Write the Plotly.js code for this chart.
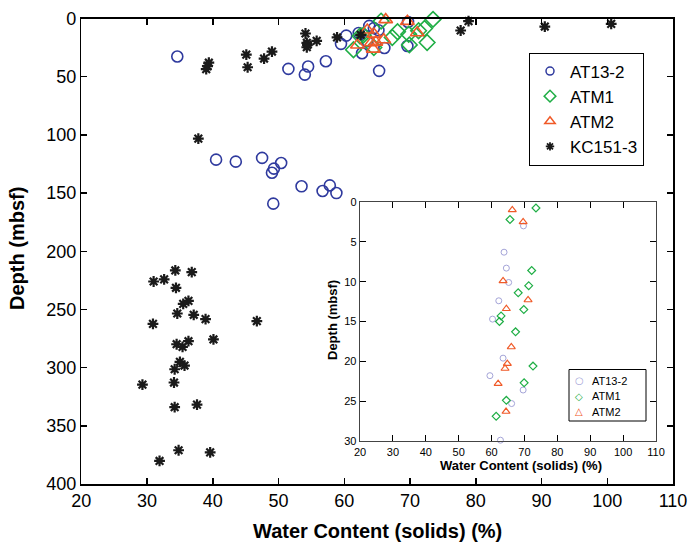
<!DOCTYPE html>
<html>
<head>
<meta charset="utf-8">
<script src="https://cdn.plot.ly/plotly-3.0.1.min.js"></script>
<style>html,body{margin:0;padding:0;background:#fff;}#chart{width:689px;height:545px;}</style>
</head>
<body>
<div id="chart"></div>
<script>
// ---- Data (water content %, depth mbsf) ----
const at13Water = [69.7,63.8,64.5,65.2,62.2,60.3,63.5,59.5,69.6,66.1,62.7,
  34.6,57.2,54.5,51.5,65.3,54.0,47.5,40.5,43.5,50.4,49.3,49.0,57.8,53.5,56.7,58.8,49.2];
const at13Depth = [3.0,6.3,8.3,10.1,12.4,14.7,19.6,21.8,23.6,25.3,29.9,
  32.7,36.7,41.3,43.3,45.0,48.2,119.8,121.3,123,124.2,129,132.5,143.4,144.2,148.2,150,159.1];

const atm1Water = [73.5,65.6,72.2,71.3,68.1,69.8,62.9,62.4,67.3,72.6,69.9,64.5,61.4];
const atm1Depth = [0.75,2.2,8.6,10.5,11.4,13.5,14.3,15.0,16.3,20.6,22.7,24.9,26.9];

const atm2Water = [66.3,69.6,63.5,71.1,64.5,66.0,64.8,64.1,62.0,64.4];
const atm2Depth = [1.0,2.5,9.9,12.3,13.4,18.2,20.3,20.9,22.8,26.3];

const kcWater = [78.9,100.6,90.5,77.7,54.1,62.5,58.9,55.8,54.3,54.4,54.3,49.0,45.1,47.8,39.4,39.2,45.3,39.0,
  37.8,34.3,36.8,32.6,31.0,34.4,36.3,35.5,34.6,37.1,38.9,46.7,30.9,40.1,36.3,34.5,35.4,35.0,35.7,34.2,
  34.1,29.3,37.6,34.2,34.8,39.6,31.9];
const kcDepth = [2.3,4.6,6.9,10.3,12.9,14.0,16.3,19.2,20.9,22.6,24.7,28.4,31.0,34.4,38.0,41.0,41.9,43.5,
  103.2,216.5,217.9,224.2,226.0,231.4,242.6,245.2,253.5,254.6,258.3,260.0,262.4,275.8,277.3,279.9,282.2,
  295.0,298.2,301.4,312.8,314.6,331.8,334.0,371.0,372.8,380.2];

const seriesNames = ['AT13-2','ATM1','ATM2','KC151-3'];
const insetMaxDepth = 30;

const xTicks = [20,30,40,50,60,70,80,90,100,110];
const yTicksMain = [0,50,100,150,200,250,300,350,400];
const yTicksInset = [0,5,10,15,20,25,30];

// ---- Styles ----
const C_BLUE = '#2f3a9e', C_GREEN = '#1fae45', C_RED = '#f05a28', C_BLACK = '#1a1a1a', C_LAV = '#a4a4d8';
const FONT = 'Liberation Sans, Arial, Helvetica, sans-serif';

function filt(xs, ys, maxD) {
  const ox = [], oy = [];
  for (let i = 0; i < xs.length; i++) if (ys[i] <= maxD) { ox.push(xs[i]); oy.push(ys[i]); }
  return [ox, oy];
}

const mainMarkers = [
  {symbol:'circle-open', size:11, color:C_BLUE, line:{width:1.6, color:C_BLUE}},
  {symbol:'diamond-open', size:12, color:C_GREEN, line:{width:1.6, color:C_GREEN}},
  {symbol:'triangle-up-open', size:12, color:C_RED, line:{width:1.6, color:C_RED}},
  {symbol:'asterisk-open', size:9, color:C_BLACK, line:{width:2.2, color:C_BLACK}}
];
const legMarkers = [
  {symbol:'circle-open', size:8, color:C_BLUE, line:{width:1.5, color:C_BLUE}},
  {symbol:'diamond-open', size:9, color:C_GREEN, line:{width:1.5, color:C_GREEN}},
  {symbol:'triangle-up-open', size:9, color:C_RED, line:{width:1.5, color:C_RED}},
  {symbol:'asterisk-open', size:7, color:C_BLACK, line:{width:1.8, color:C_BLACK}}
];
const insetMarkers = [
  {symbol:'circle-open', size:6, color:C_LAV, line:{width:1, color:C_LAV}},
  {symbol:'diamond-open', size:6, color:C_GREEN, line:{width:1.2, color:C_GREEN}},
  {symbol:'triangle-up-open', size:7, color:C_RED, line:{width:1.2, color:C_RED}}
];
const insetColors = [C_LAV, C_GREEN, C_RED];
const insetGlyphs = ['\u25CB', '\u25C7', '\u25B3'];

const mainData = [[at13Water, at13Depth],[atm1Water, atm1Depth],[atm2Water, atm2Depth],[kcWater, kcDepth]];
const traces = [];
mainData.forEach((d, i) => {
  traces.push({x:d[0], y:d[1], type:'scatter', mode:'markers', name:seriesNames[i],
    marker:mainMarkers[i], xaxis:'x', yaxis:'y', showlegend:false, cliponaxis:false, hoverinfo:'x+y'});
});
// legend entries (main)
seriesNames.forEach((n, i) => {
  traces.push({x:[null], y:[null], type:'scatter', mode:'markers', name:n, marker:legMarkers[i],
    xaxis:'x', yaxis:'y', showlegend:true});
});
// inset
for (let i = 0; i < 3; i++) {
  const f = filt(mainData[i][0], mainData[i][1], insetMaxDepth);
  traces.push({x:f[0], y:f[1], type:'scatter', mode:'markers', name:seriesNames[i],
    marker:insetMarkers[i], xaxis:'x2', yaxis:'y2', showlegend:false, cliponaxis:false});
}

const W = 689, H = 545;
const mainL = 81.3, mainR = 673, mainT = 18.5, mainB = 484;
const insL = 360, insR = 656, insT = 202, insB = 441;
const legL = 569, legR = 646, legT = 369.5, legB = 421;

const axisCommon = {showline:true, linecolor:'#000', mirror:'ticks', ticks:'inside', tickcolor:'#000',
  showgrid:false, zeroline:false, fixedrange:true};

const annotations = [
  {text:'<b>Water Content (solids) (%)</b>', xref:'paper', yref:'paper', x:378/W, y:1-531/H, showarrow:false,
    font:{size:20, family:FONT}, xanchor:'center', yanchor:'middle'},
  {text:'<b>Depth (mbsf)</b>', xref:'paper', yref:'paper', x:17/W, y:1-249/H, showarrow:false, textangle:-90,
    font:{size:20, family:FONT}, xanchor:'center', yanchor:'middle'},
  {text:'<b>Water Content (solids) (%)</b>', xref:'paper', yref:'paper', x:521/W, y:1-465/H, showarrow:false,
    font:{size:13, family:FONT}, xanchor:'center', yanchor:'middle'},
  {text:'<b>Depth (mbsf)</b>', xref:'paper', yref:'paper', x:332/W, y:1-320/H, showarrow:false, textangle:-90,
    font:{size:13, family:FONT}, xanchor:'center', yanchor:'middle'}
];
// inset legend (text entries)
for (let i = 0; i < 3; i++) {
  const yc = legT + 11 + i * 15.5;
  annotations.push({text:'<span style="color:' + insetColors[i] + '">' + insetGlyphs[i] + '</span>',
    xref:'paper', yref:'paper', x:(legL + 10)/W, y:1 - yc/H, showarrow:false, xanchor:'center', yanchor:'middle',
    font:{size:10, family:'DejaVu Sans'}});
  annotations.push({text:seriesNames[i], xref:'paper', yref:'paper', x:(legL + 21)/W, y:1 - yc/H,
    showarrow:false, xanchor:'left', yanchor:'middle', font:{size:11, family:FONT}});
}

const layout = {
  width:W, height:H, margin:{l:0,r:0,t:0,b:0}, paper_bgcolor:'#fff', plot_bgcolor:'rgba(0,0,0,0)',
  font:{family:FONT, color:'#000'},
  xaxis: Object.assign({}, axisCommon, {domain:[mainL/W, mainR/W], range:[20,110], tickvals:xTicks,
    ticktext:xTicks.map(String), ticklen:6, linewidth:1.5, tickwidth:1.5, tickfont:{size:18, family:FONT}, anchor:'y'}),
  yaxis: Object.assign({}, axisCommon, {domain:[1-mainB/H, 1-mainT/H], range:[400,0], tickvals:yTicksMain,
    ticktext:yTicksMain.map(String), ticklen:6, linewidth:1.5, tickwidth:1.5, tickfont:{size:18, family:FONT}, anchor:'x'}),
  xaxis2: Object.assign({}, axisCommon, {domain:[insL/W, insR/W], range:[20,110], tickvals:xTicks,
    ticktext:xTicks.map(String), ticklen:6, linewidth:1.3, linecolor:'#444', tickwidth:1.2, tickfont:{size:11, family:FONT}, anchor:'y2'}),
  yaxis2: Object.assign({}, axisCommon, {domain:[1-insB/H, 1-insT/H], range:[30,0], tickvals:yTicksInset,
    ticktext:yTicksInset.map(String), ticklen:6, linewidth:1.3, linecolor:'#444', tickwidth:1.2, tickfont:{size:11, family:FONT}, anchor:'x2'}),
  shapes:[
    {type:'rect', xref:'paper', yref:'paper', x0:insL/W, x1:insR/W, y0:1-insB/H, y1:1-insT/H,
      fillcolor:'#fff', line:{width:0}, layer:'below'},
    {type:'rect', xref:'paper', yref:'paper', x0:legL/W, x1:legR/W, y0:1-legB/H, y1:1-legT/H,
      fillcolor:'#fff', line:{width:1, color:'#000'}, layer:'above'}
  ],
  legend:{x:529/W, y:1-52.5/H, xanchor:'left', yanchor:'top', bgcolor:'#fff', bordercolor:'#000', borderwidth:1,
    font:{size:17, family:FONT}, itemwidth:30, tracegroupgap:0},
  annotations: annotations,
  showlegend:true
};

Plotly.newPlot('chart', traces, layout, {staticPlot:true, displayModeBar:false});
</script>
</body>
</html>
